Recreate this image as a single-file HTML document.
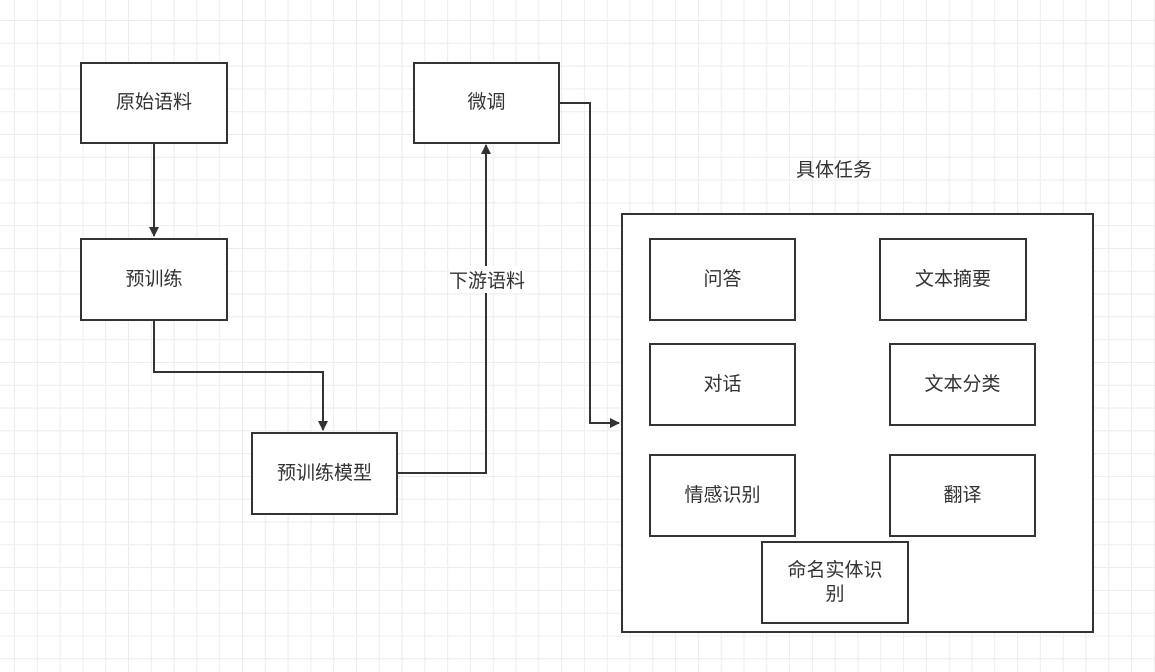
<!DOCTYPE html>
<html><head><meta charset="utf-8"><style>
body{margin:0;width:1155px;height:672px;overflow:hidden;background:#fff;
background-image:linear-gradient(#ececec 1px,transparent 1px),linear-gradient(90deg,#ececec 1px,transparent 1px);
background-size:22.8px 22.8px;background-position:14px 20px;
font-family:"Liberation Sans","Noto Sans CJK SC",sans-serif;position:relative}
.b{position:absolute;border:2px solid #333;background:#fff;box-sizing:border-box;display:flex;align-items:center;justify-content:center;text-align:center;font-size:19px;color:#333;line-height:24px}
.t{position:absolute;font-size:19px;color:#333}
</style></head><body>
<svg width="1155" height="672" style="position:absolute;left:0;top:0">
<defs><marker id="a" markerWidth="10" markerHeight="10" refX="9" refY="5" orient="auto" markerUnits="userSpaceOnUse"><path d="M0,0 L10,5 L0,10 z" fill="#333"/></marker></defs>
<g stroke="#333" stroke-width="2" fill="none">
<path d="M154,143 V236" marker-end="url(#a)"/>
<path d="M154,320 V372 H323 V430" marker-end="url(#a)"/>
<path d="M397,473 H486 V145" marker-end="url(#a)"/>
<path d="M559,103 H590 V423 H619" marker-end="url(#a)"/>
</g></svg>
<div class="b" style="left:80px;top:62px;width:148px;height:82px">原始语料</div>
<div class="b" style="left:80px;top:238px;width:148px;height:83px">预训练</div>
<div class="b" style="left:251px;top:432px;width:147px;height:83px">预训练模型</div>
<div class="b" style="left:413px;top:62px;width:147px;height:82px">微调</div>
<div class="t" style="left:449px;top:266px;background:#fff">下游语料</div>
<div class="t" style="left:796px;top:155px">具体任务</div>
<div class="b" style="left:621px;top:213px;width:473px;height:420px"></div>
<div class="b" style="left:649px;top:238px;width:147px;height:83px">问答</div>
<div class="b" style="left:879px;top:238px;width:148px;height:83px">文本摘要</div>
<div class="b" style="left:649px;top:343px;width:147px;height:83px">对话</div>
<div class="b" style="left:889px;top:343px;width:147px;height:83px">文本分类</div>
<div class="b" style="left:649px;top:454px;width:147px;height:83px">情感识别</div>
<div class="b" style="left:889px;top:454px;width:147px;height:83px">翻译</div>
<div class="b" style="left:761px;top:541px;width:148px;height:83px;padding:0 18px">命名实体识别</div>
</body></html>
